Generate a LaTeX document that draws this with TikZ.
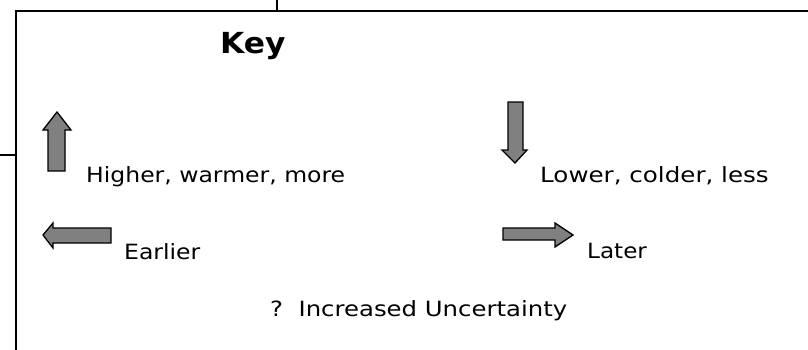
\documentclass[tikz,border=0pt]{standalone}
\usepackage{fontspec}
\setmainfont{DejaVu Sans}
\newcommand{\wide}[1]{\scalebox{1.15}[1]{#1}}
\begin{document}
\begin{tikzpicture}[x=1pt,y=1pt,
  frame/.style={line width=2pt,black},
  keyarrow/.style={draw=black,line width=1.3pt,fill=black!50,line join=miter},
  label/.style={inner sep=0pt,anchor=base west,font=\fontsize{21}{24}\selectfont},
  title/.style={inner sep=0pt,anchor=base west,font=\fontsize{29}{32}\selectfont\bfseries}]
\useasboundingbox (0,0) rectangle (808,349);
% frame
\coordinate (bl) at (16,-2);
\coordinate (tl) at (16,338);
\coordinate (tr) at (812,338);
\coordinate (topA) at (277,338);
\coordinate (topB) at (277,352);
\coordinate (leftA) at (-2,194);
\coordinate (leftB) at (16,194);
\draw[frame] (bl) -- (tl) -- (tr);
\draw[frame] (topA) -- (topB);
\draw[frame] (leftA) -- (leftB);
% arrows
\draw[keyarrow] (57,237) -- (71,219) -- (65,219) -- (65,178) -- (48,178) -- (48,219) -- (43,219) -- cycle;
\draw[keyarrow] (508,247) -- (523,247) -- (523,199) -- (527,199) -- (515,186) -- (502,199) -- (508,199) -- cycle;
\draw[keyarrow] (43,114) -- (53,126) -- (53,121) -- (111,121) -- (111,106) -- (53,106) -- (53,101) -- cycle;
\draw[keyarrow] (503,121) -- (555,121) -- (555,126) -- (573,114) -- (555,102) -- (555,109) -- (503,109) -- cycle;
% texts
\node[title] (key) at (220,296) {\scalebox{1.08}[1]{Key}};
\node[label] (higher) at (86,167) {\scalebox{1.12}[1]{Higher, warmer, more}};
\node[label] (lower) at (540,167) {\scalebox{1.17}[1]{Lower, colder, less}};
\node[label] (earlier) at (124,90) {\scalebox{1.12}[1]{Earlier}};
\node[label] (later) at (587,91) {\scalebox{1.1}[1]{Later}};
\node[label] (unc) at (270,33) {\scalebox{1.16}[1]{?\ \ Increased Uncertainty}};
\end{tikzpicture}
\end{document}
